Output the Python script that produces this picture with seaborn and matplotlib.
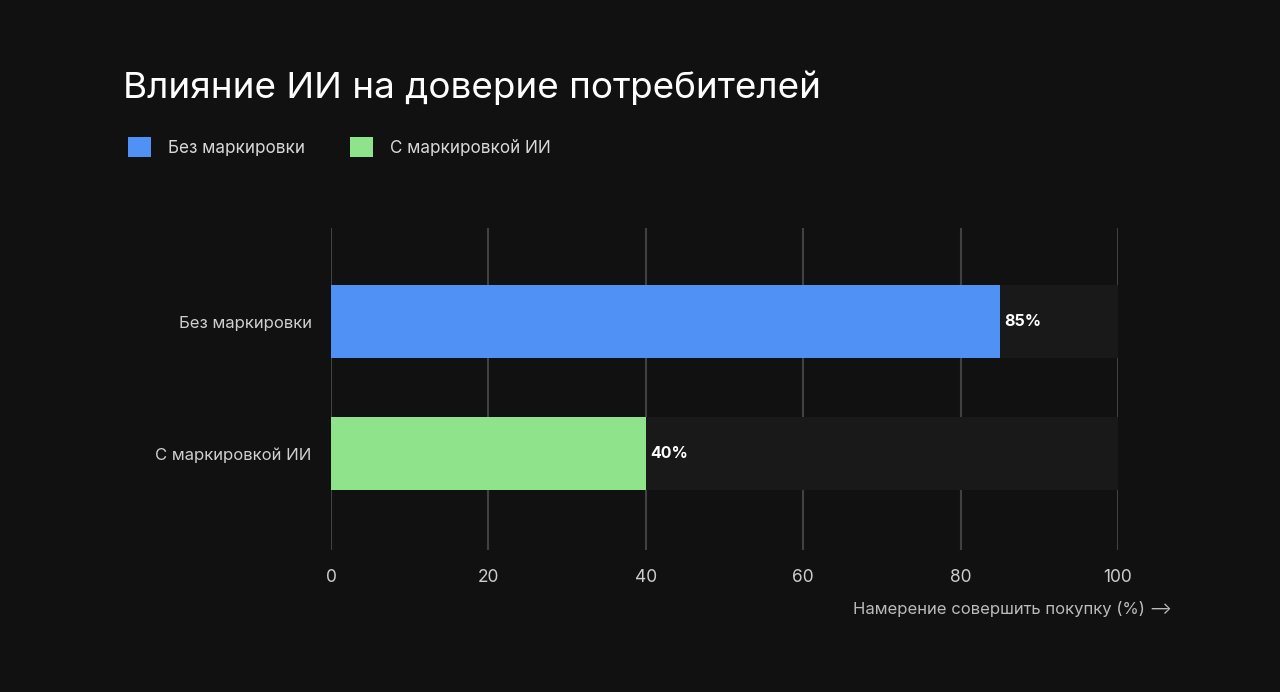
import matplotlib
matplotlib.use("Agg")
import matplotlib.pyplot as plt
import matplotlib.patches as mpatches
import seaborn as sns
import pandas as pd

# data
categories = ["Без маркировки", "С маркировкой ИИ"]
values = [85, 40]
track = [100, 100]
bar_colors = ["#5091f6", "#8fe38b"]
x_ticks = [0, 20, 40, 60, 80, 100]

title = "Влияние ИИ на доверие потребителей"
xlabel = "Намерение совершить покупку (%) ⟶"

bg = "#111111"
sns.set_theme(style="dark")
plt.rcParams["font.family"] = ["Inter", "DejaVu Sans"]

df = pd.DataFrame({"Группа": categories, "Значение": values, "Фон": track})

fig = plt.figure(figsize=(12.8, 6.92), dpi=100, facecolor=bg)
ax = fig.add_axes([0.2586, 0.2052, 0.6148, 0.4653])
ax.set_facecolor(bg)

# grid lines first, then tracks over them
for t in x_ticks:
    ax.axvline(t, color="#414141", lw=1.5, zorder=0)

sns.barplot(data=df, x="Фон", y="Группа", color="#191919", width=0.55,
            orient="h", ax=ax, zorder=1, saturation=1, linewidth=0)
sns.barplot(data=df, x="Значение", y="Группа", hue="Группа",
            palette=bar_colors, width=0.55, orient="h", ax=ax,
            zorder=2, saturation=1, legend=False, linewidth=0)

for i, v in enumerate(values):
    ax.text(v + 0.6, i, f"{v}%", va="center", ha="left", color="white",
            fontsize=11.5, fontweight="bold", zorder=3)

ax.set_xlim(0, 100)
ax.set_ylim(1.73, -0.71)
ax.set_xticks(x_ticks)
ax.set_xticklabels([str(t) for t in x_ticks])
ax.set_xlabel("")
ax.set_ylabel("")
ax.grid(False)
for s in ax.spines.values():
    s.set_visible(False)
ax.tick_params(axis="x", length=0, pad=14, labelsize=12.5, labelcolor="#cccccc")
ax.tick_params(axis="y", length=0, pad=14, labelsize=12, labelcolor="#cfcfcf")

fig.text(123 / 1280, 1 - 88 / 692, title, color="white", fontsize=26.5,
         va="center", ha="left")
fig.text(1172 / 1280, 1 - 609 / 692, xlabel, color="#bbbbbb", fontsize=12,
         va="center", ha="right")

handles = [mpatches.Patch(color=c, label=l, linewidth=0) for c, l in zip(bar_colors, categories)]
fig.legend(handles=handles, loc="center left", bbox_to_anchor=(128 / 1280, 1 - 147 / 692),
           ncol=2, frameon=False, fontsize=12.3, labelcolor="#d8d8d8",
           borderpad=0, borderaxespad=0,
           handlelength=1.35, handleheight=1.5, handletextpad=1.0, columnspacing=2.6)

fig.savefig("out.png", dpi=100, facecolor=bg)
